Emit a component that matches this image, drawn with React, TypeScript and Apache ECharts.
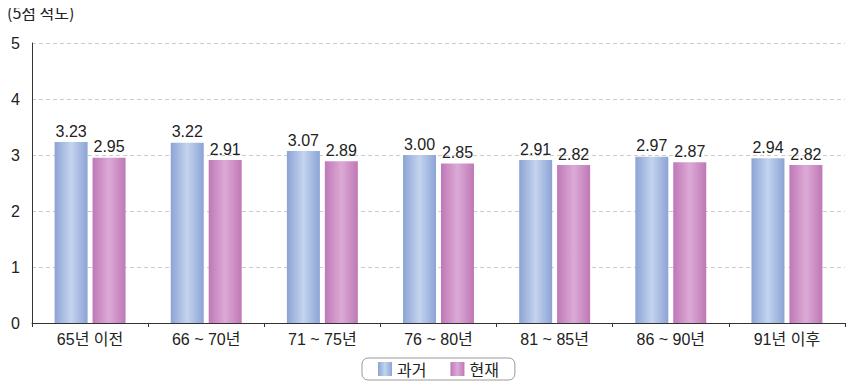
import React, { useEffect, useRef } from "react";
import * as echarts from "echarts";

const categories = ["65년 이전", "66 ~ 70년", "71 ~ 75년", "76 ~ 80년", "81 ~ 85년", "86 ~ 90년", "91년 이후"];
const pastValues = [3.23, 3.22, 3.07, 3.0, 2.91, 2.97, 2.94];
const presentValues = [2.95, 2.91, 2.89, 2.85, 2.82, 2.87, 2.82];
const seriesNames = ["과거", "현재"];

const FONT = "'Liberation Sans', 'Noto Sans CJK KR', sans-serif";
const KFONT = "'Noto Sans CJK KR', 'Liberation Sans', sans-serif";

const grad = (edge: string, mid: string) =>
  new echarts.graphic.LinearGradient(0, 0, 1, 0, [
    { offset: 0, color: edge },
    { offset: 0.5, color: mid },
    { offset: 1, color: edge },
  ]);

export default function App() {
  const ref = useRef<HTMLDivElement>(null);
  useEffect(() => {
    if (!ref.current) return;
    const chart = echarts.init(ref.current, null, { renderer: "svg" });
    const label = {
      show: true,
      position: "top" as const,
      distance: 3,
      color: "#222",
      fontSize: 16,
      fontFamily: FONT,
      formatter: (p: any) => p.value.toFixed(2),
    };
    chart.setOption({
      animation: false,
      graphic: [
        {
          type: "text",
          left: 7,
          top: 4,
          style: { text: "(5점 척도)", fontSize: 16, fill: "#222", fontFamily: KFONT },
        },
      ],
      legend: {
        bottom: 4,
        left: 362,
        data: seriesNames,
        icon: "rect",
        itemWidth: 14,
        itemHeight: 14,
        itemGap: 24,
        borderColor: "#999",
        borderWidth: 1,
        borderRadius: 6,
        padding: [3, 16],
        textStyle: { fontSize: 16, color: "#222", fontFamily: KFONT },
      },
      grid: { left: 32, right: 17, top: 43, bottom: 61 },
      xAxis: {
        type: "category",
        data: categories,
        axisLine: { lineStyle: { color: "#333", width: 1 } },
        axisTick: { show: true, length: 4, lineStyle: { color: "#333" } },
        axisLabel: { fontSize: 16, color: "#222", fontFamily: FONT, margin: 8 },
      },
      yAxis: {
        type: "value",
        min: 0,
        max: 5,
        interval: 1,
        axisLine: { show: true, lineStyle: { color: "#333" } },
        axisTick: { show: false },
        axisLabel: { fontSize: 16, color: "#222", fontFamily: FONT, margin: 12 },
        splitLine: { lineStyle: { color: "#ccc", type: [4, 3] } },
      },
      series: [
        {
          name: seriesNames[0],
          type: "bar",
          data: pastValues,
          barWidth: 33,
          barGap: "15%",
          itemStyle: { color: grad("#8ca4d6", "#c4d4ee") },
          label,
        },
        {
          name: seriesNames[1],
          type: "bar",
          data: presentValues,
          barWidth: 33,
          itemStyle: { color: grad("#bf78b6", "#dcaad6") },
          label,
        },
      ],
    });
    return () => chart.dispose();
  }, []);
  return <div ref={ref} style={{ width: 862, height: 384, margin: "-8px 0 0 -8px" }} />;
}
